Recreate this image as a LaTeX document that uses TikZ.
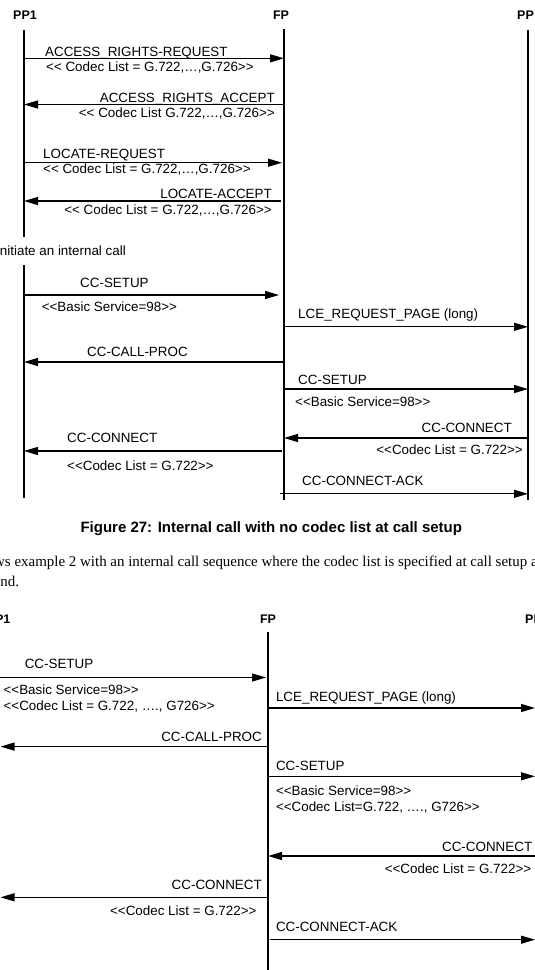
\documentclass[tikz,border=0pt]{standalone}
\usepackage{fontspec}
\setmainfont{Liberation Sans}[Ligatures=TeXOff]
\newfontfamily\bodyserif{Liberation Serif}[Ligatures=TeXOff]
\usetikzlibrary{arrows.meta}
\tikzset{
  life/.style={line width=2pt},
  msg/.style={line width=1.2pt,-{Triangle[length=14pt,width=8pt]}},
  lbl/.style={font=\fontsize{13.4}{16}\selectfont,inner sep=0pt},
  head/.style={font=\bfseries\fontsize{12.5}{15}\selectfont,inner sep=0pt},
  capt/.style={font=\bfseries\fontsize{15}{18}\selectfont,inner sep=0pt},
  body/.style={font=\bodyserif\fontsize{14.95}{18}\selectfont,inner sep=0pt}
}
\begin{document}
\begin{tikzpicture}[x=1pt,y=-1pt]
\useasboundingbox (0,0) rectangle (535,970);
\fill[white] (0,0) rectangle (535,970);
% ---------- top diagram ----------
\node[head,anchor=base] (hpp1) at (25,19.5) {PP1};
\node[head,anchor=base] (hfp) at (281,19.5) {FP};
\node[head,anchor=base west] (hpp) at (517,19.5) {PP};
\coordinate (pp1a) at (24,30); \coordinate (pp1b) at (24,237);
\coordinate (pp1c) at (24,265); \coordinate (pp1d) at (24,497.5);
\coordinate (fpa) at (284,29); \coordinate (fpb) at (284,500);
\coordinate (ppa) at (528,30); \coordinate (ppb) at (528,500);
\draw[life] (pp1a) -- (pp1b);
\draw[life] (pp1c) -- (pp1d);
\draw[life] (fpa) -- (fpb);
\draw[life] (ppa) -- (ppb);

\coordinate (m1a) at (24,58.3); \coordinate (m1b) at (284,58.3);
\draw[msg] (m1a) -- (m1b);
\node[lbl,anchor=base west] (t1) at (45,56) {ACCESS\_RIGHTS-REQUEST};
\node[lbl,anchor=base west] (t1b) at (46,71) {<< Codec List = G.722,…,G.726>>};

\coordinate (m2a) at (284,104.5); \coordinate (m2b) at (24,104.5);
\draw[msg] (m2a) -- (m2b);
\node[lbl,anchor=base east] (t2) at (275,102) {ACCESS\_RIGHTS\_ACCEPT};
\node[lbl,anchor=base east] (t2b) at (275,117.5) {<< Codec List G.722,…,G.726>>};

\coordinate (m3a) at (24,162.7); \coordinate (m3b) at (282,162.7);
\draw[msg] (m3a) -- (m3b);
\node[lbl,anchor=base west] (t3) at (43,158.5) {LOCATE-REQUEST};
\node[lbl,anchor=base west] (t3b) at (43,173) {<< Codec List = G.722,…,G.726>>};

\coordinate (m4a) at (281,201); \coordinate (m4b) at (24,201);
\draw[msg] (m4a) -- (m4b);
\node[lbl,anchor=base east] (t4) at (272,198) {LOCATE-ACCEPT};
\node[lbl,anchor=base east] (t4b) at (272,214) {<< Codec List = G.722,…,G.726>>};

\node[lbl,anchor=base west] (tinit) at (-4,255) {Initiate an internal call};

\coordinate (m5a) at (24,295); \coordinate (m5b) at (279,295);
\draw[msg] (m5a) -- (m5b);
\node[lbl,anchor=base west] (t5) at (80,287.5) {CC-SETUP};
\node[lbl,anchor=base west] (t5b) at (41.6,311) {<<Basic Service=98>>};

\coordinate (m6a) at (284,326.8); \coordinate (m6b) at (528,326.8);
\draw[msg] (m6a) -- (m6b);
\node[lbl,anchor=base west] (t6) at (298,318) {LCE\_REQUEST\_PAGE (long)};

\coordinate (m7a) at (285,362); \coordinate (m7b) at (24,362);
\draw[msg] (m7a) -- (m7b);
\node[lbl,anchor=base west] (t7) at (87,356) {CC-CALL-PROC};

\coordinate (m8a) at (283,389); \coordinate (m8b) at (528,389);
\draw[msg] (m8a) -- (m8b);
\node[lbl,anchor=base west] (t8) at (298,384) {CC-SETUP};
\node[lbl,anchor=base west] (t8b) at (295,406.7) {<<Basic Service=98>>};

\coordinate (m9a) at (528,438); \coordinate (m9b) at (284,438);
\draw[msg] (m9a) -- (m9b);
\node[lbl,anchor=base east] (t9) at (512,432) {CC-CONNECT};
\node[lbl,anchor=base east] (t9b) at (523,454.5) {<<Codec List = G.722>>};

\coordinate (m10a) at (282,451); \coordinate (m10b) at (24,451);
\draw[msg] (m10a) -- (m10b);
\node[lbl,anchor=base west] (t10) at (67,442.6) {CC-CONNECT};
\node[lbl,anchor=base west] (t10b) at (67,470) {<<Codec List = G.722>>};

\coordinate (m11a) at (280,493.8); \coordinate (m11b) at (528,493.8);
\draw[msg] (m11a) -- (m11b);
\node[lbl,anchor=base west] (t11) at (302,485) {CC-CONNECT-ACK};

% ---------- caption and text ----------
\node[capt,anchor=base] (cap) at (271.3,532.4) {Figure 27: Internal call with no codec list at call setup};
\node[body,anchor=base west] (bod1) at (-6,566.5) {ws example 2 with an internal call sequence where the codec list is specified at call setup and};
\node[body,anchor=base west] (bod2) at (-6.5,586) {and.};

% ---------- bottom diagram ----------
\node[head,anchor=base east] (bpp1) at (10.5,623) {PP1};
\node[head,anchor=base] (bfp) at (268,623) {FP};
\node[head,anchor=base west] (bpp) at (525,623) {PP};
\coordinate (bfpa) at (267.5,632.4); \coordinate (bfpb) at (267.5,975);
\draw[life] (bfpa) -- (bfpb);

\coordinate (n1a) at (-5,677.5); \coordinate (n1b) at (266,677.5);
\draw[msg] (n1a) -- (n1b);
\node[lbl,anchor=base west] (u1) at (24.6,668) {CC-SETUP};
\node[lbl,anchor=base west] (u1b) at (3.4,694.5) {<<Basic Service=98>>};
\node[lbl,anchor=base west] (u1c) at (3.4,710) {<<Codec List = G.722, …., G726>>};

\coordinate (n2a) at (268,708); \coordinate (n2b) at (535,708);
\draw[msg] (n2a) -- (n2b);
\node[lbl,anchor=base west] (u2) at (275.8,701.4) {LCE\_REQUEST\_PAGE (long)};

\coordinate (n3a) at (268,746.6); \coordinate (n3b) at (0.5,746.6);
\draw[msg] (n3a) -- (n3b);
\node[lbl,anchor=base east] (u3) at (262,741.5) {CC-CALL-PROC};

\coordinate (n4a) at (268,776.3); \coordinate (n4b) at (535,776.3);
\draw[msg] (n4a) -- (n4b);
\node[lbl,anchor=base west] (u4) at (275.8,770.5) {CC-SETUP};
\node[lbl,anchor=base west] (u4b) at (275.8,795.8) {<<Basic Service=98>>};
\node[lbl,anchor=base west] (u4c) at (275.8,811) {<<Codec List=G.722, …., G726>>};

\coordinate (n5a) at (540,856); \coordinate (n5b) at (268,856);
\draw[msg] (n5a) -- (n5b);
\node[lbl,anchor=base east] (u5) at (532.4,851.3) {CC-CONNECT};
\node[lbl,anchor=base east] (u5b) at (531.4,873) {<<Codec List = G.722>>};

\coordinate (n6a) at (268,897.3); \coordinate (n6b) at (0.5,897.3);
\draw[msg] (n6a) -- (n6b);
\node[lbl,anchor=base east] (u6) at (262,889.5) {CC-CONNECT};
\node[lbl,anchor=base east] (u6b) at (256.7,915.8) {<<Codec List = G.722>>};

\coordinate (n7a) at (269.6,939.7); \coordinate (n7b) at (535,939.7);
\draw[msg] (n7a) -- (n7b);
\node[lbl,anchor=base west] (u7) at (275.8,931) {CC-CONNECT-ACK};
\end{tikzpicture}
\end{document}
